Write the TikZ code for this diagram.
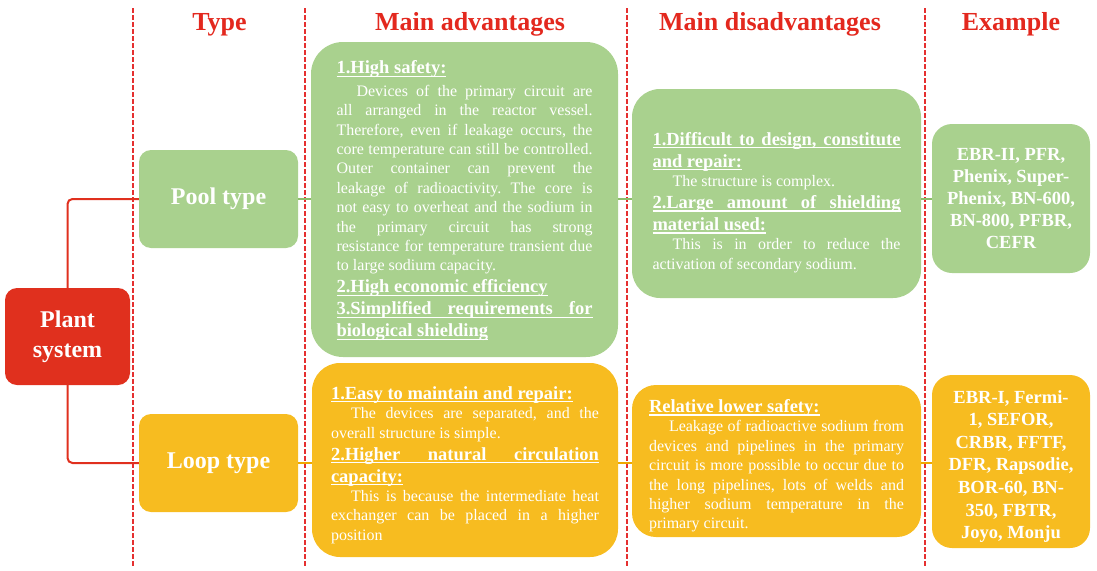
\documentclass[tikz,border=0pt]{standalone}
\usepackage{fontspec}
\setmainfont{Liberation Serif}
\definecolor{gfill}{HTML}{A9D18E}
\definecolor{ofill}{HTML}{F7BC20}
\definecolor{rfill}{HTML}{E0301E}
\definecolor{hred}{HTML}{E3281E}
\definecolor{dred}{HTML}{E53030}
\definecolor{gline}{HTML}{8CBF6C}
\definecolor{oline}{HTML}{EFA800}
\frenchspacing
\newcommand\bodyf{\fontsize{16}{19.4}\selectfont\mdseries}
\newcommand\headf{\fontsize{18.5}{22}\selectfont\bfseries}
\newcommand\hul[1]{\setbox0=\hbox{#1}\rlap{\rule[-3pt]{\wd0}{1.2pt}}\box0}
\newcommand\sline[1]{\hbox to\linewidth{\spaceskip=.25em plus 1fil\xspaceskip=\spaceskip #1}}
\newcommand\pline[1]{\hbox{#1}}
\newcommand\ctrline[1]{\hbox to\linewidth{\hss#1\hss}}
\newcommand\ind{\hspace*{20pt}}
\tikzset{
  hdr/.style={text=hred, font=\fontsize{26}{30}\selectfont\bfseries, anchor=base, inner sep=0pt},
  dashline/.style={draw=dred, line width=2.2pt, dash pattern=on 4.5pt off 2.5pt},
  gbox/.style={fill=gfill, text=white, inner sep=0pt},
  obox/.style={fill=ofill, text=white, inner sep=0pt},
  conn/.style={draw=rfill, line width=2pt, rounded corners=5pt},
  gtick/.style={draw=gline, line width=1.2pt},
  otick/.style={draw=oline, line width=1.2pt},
  exfont/.style={font=\fontsize{18.5}{22}\selectfont\bfseries, align=center},
}
\begin{document}
\begin{tikzpicture}[x=1pt,y=-1pt]
\useasboundingbox (0,0) rectangle (1097,570);
% column separators
\foreach \xx/\nm in {133/a,305/b,627/c,925/d}{
  \coordinate (\nm top) at (\xx,8);
  \coordinate (\nm bot) at (\xx,567);
  \draw[dashline] (\nm top) -- (\nm bot);
}
% headers
\node[hdr] (hType) at (219.5,30) {Type};
\node[hdr] (hAdv) at (470,30) {Main advantages};
\node[hdr] (hDis) at (770,30) {Main disadvantages};
\node[hdr] (hEx) at (1011,30) {Example};
% left column
\node[fill=rfill, text=white, rounded corners=12pt, minimum width=125, minimum height=97, inner sep=0pt, align=center, font=\fontsize{24}{30}\selectfont\bfseries] (plant) at (67.5,336.5) {Plant\\system};
\node[gbox, rounded corners=12pt, minimum width=159, minimum height=98, font=\fontsize{24}{29}\selectfont\bfseries] (pool) at (218.5,199) {Pool type};
\node[obox, rounded corners=12pt, minimum width=159, minimum height=98, font=\fontsize{24}{29}\selectfont\bfseries] (loop) at (218.5,463) {Loop type};
% advantages
\node[gbox, rounded corners=32pt, minimum width=307, minimum height=315] (advP) at (464.5,199.5) {\begin{minipage}{256pt}
\vskip 3pt
{\headf\pline{\hul{1.High safety:}}}
\vskip 3pt
{\bodyf
\sline{\ind Devices of the primary circuit are}
\sline{all arranged in the reactor vessel.}
\sline{Therefore, even if leakage occurs, the}
\sline{core temperature can still be controlled.}
\sline{Outer container can prevent the}
\sline{leakage of radioactivity. The core is}
\sline{not easy to overheat and the sodium in}
\sline{the primary circuit has strong}
\sline{resistance for temperature transient due}
\pline{to large sodium capacity.}}
{\headf
\pline{\hul{2.High economic efficiency}}
\pline{\hul{\hbox to\linewidth{\spaceskip=.25em plus 1fil 3.Simplified requirements for}}}
\pline{\hul{biological shielding}}}
\end{minipage}};
\node[obox, rounded corners=28pt, minimum width=306, minimum height=194] (advL) at (465,460) {\begin{minipage}{268pt}
\vskip 10pt
{\headf\pline{\hul{1.Easy to maintain and repair:}}}
{\bodyf
\sline{\ind The devices are separated, and the}
\pline{overall structure is simple.}}
{\headf
\pline{\hul{\hbox to\linewidth{\spaceskip=.25em plus 1fil 2.Higher natural circulation}}}
\pline{\hul{capacity:}}}
{\bodyf
\sline{\ind This is because the intermediate heat}
\sline{exchanger can be placed in a higher}
\pline{position}}
\end{minipage}};
% disadvantages
\node[gbox, rounded corners=28pt, minimum width=289, minimum height=209] (disP) at (776.5,193.5) {\begin{minipage}{248pt}
\vskip 18pt
{\headf
\pline{\hul{\hbox to\linewidth{\spaceskip=.25em plus 1fil 1.Difficult to design, constitute}}}
\pline{\hul{and repair:}}}
{\bodyf
\pline{\ind The structure is complex.}}
{\headf
\pline{\hul{\hbox to\linewidth{\spaceskip=.25em plus 1fil 2.Large amount of shielding}}}
\pline{\hul{material used:}}}
{\bodyf
\sline{\ind This is in order to reduce the}
\pline{activation of secondary sodium.}}
\end{minipage}};
\node[obox, rounded corners=24pt, minimum width=289, minimum height=152] (disL) at (776.5,461) {\begin{minipage}{255pt}
\vskip 10pt
{\headf\pline{\hul{Relative lower safety:}}}
{\bodyf
\sline{\ind Leakage of radioactive sodium from}
\sline{devices and pipelines in the primary}
\sline{circuit is more possible to occur due to}
\sline{the long pipelines, lots of welds and}
\sline{higher sodium temperature in the}
\pline{primary circuit.}}
\end{minipage}};
% examples
\node[gbox, rounded corners=20pt, minimum width=158, minimum height=149, exfont] (exP) at (1011,198.5) {EBR-II, PFR,\\Phenix, Super-\\Phenix, BN-600,\\BN-800, PFBR,\\CEFR};
\node[obox, rounded corners=20pt, minimum width=158, minimum height=173] (exL) at (1011,461.5) {\begin{minipage}{150pt}
\vskip 10pt
{\fontsize{18.5}{22.6}\selectfont\bfseries
\ctrline{EBR-I, Fermi-}
\ctrline{1, SEFOR,}
\ctrline{CRBR, FFTF,}
\ctrline{DFR, Rapsodie,}
\ctrline{BOR-60, BN-}
\ctrline{350, FBTR,}
\ctrline{Joyo, Monju}}
\end{minipage}};
% connectors
\draw[conn] (plant.north) |- (pool.west);
\draw[conn] (plant.south) |- (loop.west);
\draw[gtick] (pool.east) -- (pool.east -| advP.west);
\draw[gtick] (pool.east -| advP.east) -- (pool.east -| disP.west);
\draw[gtick] (pool.east -| disP.east) -- (pool.east -| exP.west);
\draw[otick] (loop.east) -- (loop.east -| advL.west);
\draw[otick] (loop.east -| advL.east) -- (loop.east -| disL.west);
\draw[otick] (loop.east -| disL.east) -- (loop.east -| exL.west);
\end{tikzpicture}
\end{document}
